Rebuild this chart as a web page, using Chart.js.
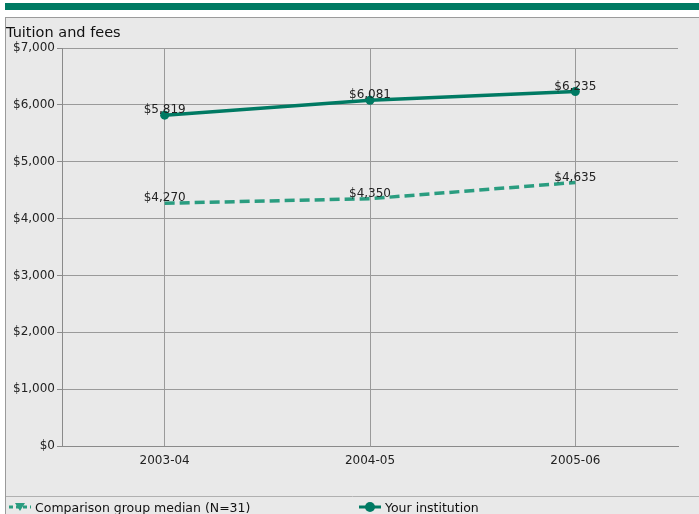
<!DOCTYPE html>
<html>
<head>
<meta charset="utf-8">
<script src="https://cdn.jsdelivr.net/npm/chart.js@4"></script>
<style>
  html, body { margin: 0; padding: 0; background: #fff; }
  body { width: 699px; height: 514px; position: relative; overflow: hidden; font-family: "DejaVu Sans", Verdana, sans-serif; }
  #barra { position: absolute; left: 5px; top: 3px; width: 694px; height: 7px; background: #007a63; }
  #painel { position: absolute; left: 5px; top: 17px; width: 700px; height: 510px; background: #e9e9e9; border: 1px solid #9a9a9a; }
  #grafico { position: absolute; left: 0; top: 0; }
</style>
</head>
<body>
<div id="barra"></div>
<div id="painel"></div>
<canvas id="grafico" width="699" height="514"></canvas>
<script>
const anos = ["2003-04", "2004-05", "2005-06"];
const instituicao = [5819, 6081, 6235];
const mediana = [4270, 4350, 4635];
const ticksY = [0, 1000, 2000, 3000, 4000, 5000, 6000, 7000];

const verdeEscuro = "#007a63";
const verdeClaro = "#2a9d80";

function formatarDinheiro(v) {
  return "$" + v.toLocaleString("en-US");
}

// rótulos de valor, título e legenda
const extras = {
  id: "extras",
  afterDatasetsDraw(chart) {
    const ctx = chart.ctx;
    ctx.save();
    ctx.fillStyle = "#222";
    ctx.font = "12px 'DejaVu Sans'";
    ctx.textAlign = "center";
    ctx.textBaseline = "bottom";
    chart.data.datasets.forEach((ds, i) => {
      const meta = chart.getDatasetMeta(i);
      meta.data.forEach((pt, j) => {
        ctx.fillText(formatarDinheiro(ds.data[j]), pt.x, pt.y + 1);
      });
    });

    // título
    ctx.textAlign = "left";
    ctx.textBaseline = "alphabetic";
    ctx.font = "14.5px 'DejaVu Sans'";
    ctx.fillStyle = "#111";
    ctx.fillText("Tuition and fees", 6, 37);

    // linha separadora da legenda
    ctx.strokeStyle = "#b0b0b0";
    ctx.lineWidth = 1;
    ctx.beginPath();
    ctx.moveTo(6, 496.5);
    ctx.lineTo(699, 496.5);
    ctx.stroke();

    // legenda
    ctx.font = "12.5px 'DejaVu Sans'";
    ctx.fillStyle = "#111";
    ctx.fillText("Comparison group median (N=31)", 35, 512);
    ctx.fillText("Your institution", 385, 512);

    ctx.lineWidth = 3;
    ctx.strokeStyle = verdeClaro;
    ctx.setLineDash([4, 3]);
    ctx.beginPath();
    ctx.moveTo(9, 507);
    ctx.lineTo(31, 507);
    ctx.stroke();
    ctx.setLineDash([]);
    ctx.fillStyle = verdeClaro;
    ctx.beginPath();
    ctx.moveTo(15, 503);
    ctx.lineTo(25, 503);
    ctx.lineTo(20, 511);
    ctx.closePath();
    ctx.fill();

    ctx.strokeStyle = verdeEscuro;
    ctx.beginPath();
    ctx.moveTo(359, 507);
    ctx.lineTo(381, 507);
    ctx.stroke();
    ctx.fillStyle = verdeEscuro;
    ctx.beginPath();
    ctx.arc(370, 507, 5, 0, Math.PI * 2);
    ctx.fill();
    ctx.restore();
  }
};

const ctx = document.getElementById("grafico").getContext("2d");
new Chart(ctx, {
  type: "line",
  data: {
    labels: anos,
    datasets: [
      {
        label: "Comparison group median (N=31)",
        data: mediana,
        borderColor: verdeClaro,
        backgroundColor: verdeClaro,
        borderWidth: 3.5,
        borderDash: [10, 5],
        pointRadius: 0,
        tension: 0,
        fill: false
      },
      {
        label: "Your institution",
        data: instituicao,
        borderColor: verdeEscuro,
        backgroundColor: verdeEscuro,
        borderWidth: 3.5,
        pointRadius: 4.5,
        pointBackgroundColor: verdeEscuro,
        pointBorderWidth: 0,
        tension: 0,
        fill: false
      }
    ]
  },
  options: {
    responsive: false,
    animation: false,
    layout: { padding: { left: 0, top: 48, right: 21, bottom: 0 } },
    plugins: {
      legend: { display: false },
      tooltip: { enabled: false }
    },
    scales: {
      x: {
        offset: true,
        afterFit: s => { s.height = 68; },
        grid: {
          offset: false,
          color: "#9a9a9a",
          drawTicks: false
        },
        border: { color: "#8a8a8a" },
        ticks: {
          color: "#222",
          font: { family: "DejaVu Sans", size: 12 },
          padding: 8
        }
      },
      y: {
        min: 0,
        max: 7000,
        afterFit: s => { s.width = 62; },
        afterBuildTicks: s => { s.ticks = ticksY.map(v => ({ value: v })); },
        grid: {
          color: "#9a9a9a",
          tickLength: 5,
          tickColor: "#8a8a8a"
        },
        border: { color: "#8a8a8a" },
        ticks: {
          color: "#222",
          font: { family: "DejaVu Sans", size: 12 },
          padding: 2,
          callback: v => formatarDinheiro(v)
        }
      }
    }
  },
  plugins: [extras]
});
</script>
</body>
</html>
